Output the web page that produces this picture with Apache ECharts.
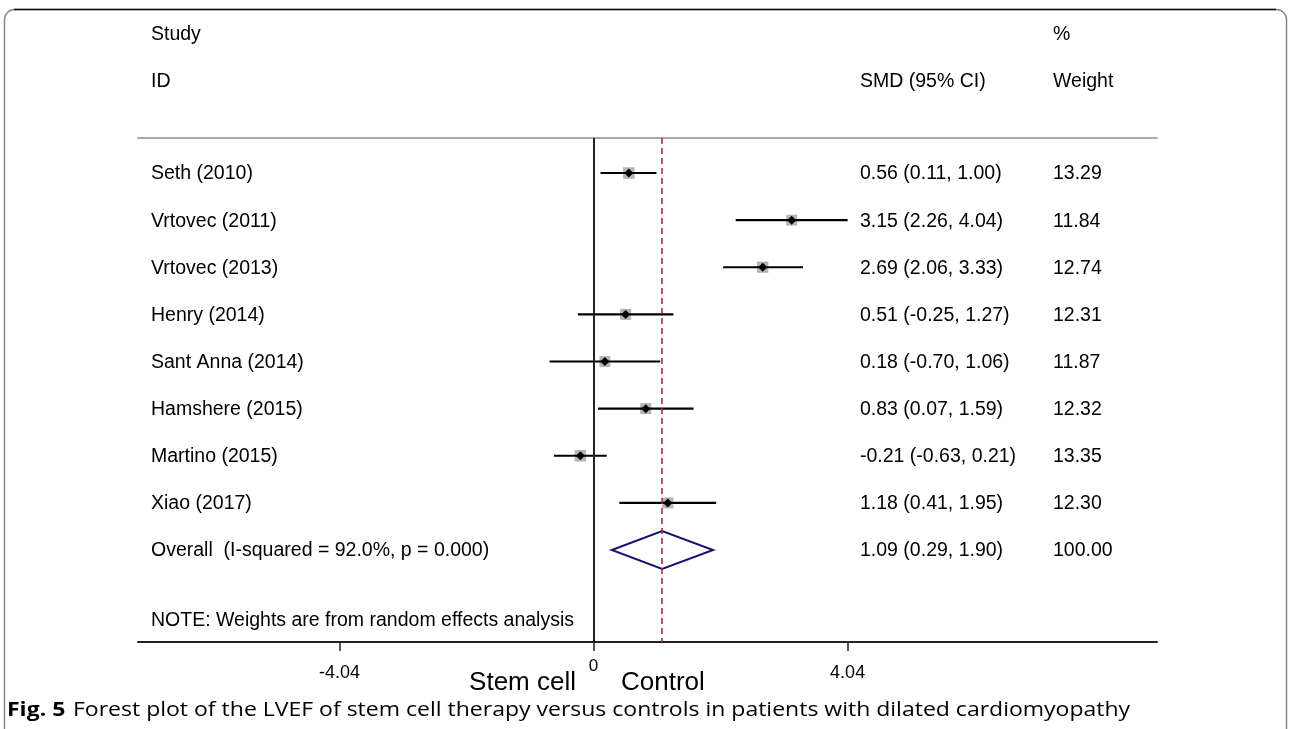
<!DOCTYPE html>
<html>
<head>
<meta charset="utf-8">
<script src="https://cdn.jsdelivr.net/npm/echarts@6/dist/echarts.min.js"></script>
<style>
html,body{margin:0;padding:0;background:#fff;}
#chart{width:1290px;height:729px;}
</style>
</head>
<body>
<div id="chart"></div>
<script>
// ---- data ----
const studies = ['Seth (2010)', 'Vrtovec (2011)', 'Vrtovec (2013)', 'Henry (2014)', 'Sant Anna (2014)', 'Hamshere (2015)', 'Martino (2015)', 'Xiao (2017)'];
const smd     = [0.56, 3.15, 2.69, 0.51, 0.18, 0.83, -0.21, 1.18];
const ciLow   = [0.11, 2.26, 2.06, -0.25, -0.70, 0.07, -0.63, 0.41];
const ciHigh  = [1.00, 4.04, 3.33, 1.27, 1.06, 1.59, 0.21, 1.95];
const weights = [13.29, 11.84, 12.74, 12.31, 11.87, 12.32, 13.35, 12.30];
const overallLabel = 'Overall  (I-squared = 92.0%, p = 0.000)';
const overallSMD = 1.09, overallLow = 0.29, overallHigh = 1.90, overallWeight = 100.00;
const xTicks = [-4.04, 0, 4.04];
const noteText = 'NOTE: Weights are from random effects analysis';
const headers = {study: ['Study', 'ID'], smd: 'SMD (95% CI)', weight: ['%', 'Weight']};
const sideLabels = ['Stem cell', 'Control'];
const captionBold = 'Fig. 5';
const captionText = 'Forest plot of the LVEF of stem cell therapy versus controls in patients with dilated cardiomyopathy';

// ---- build ----
const FONT = 'Liberation Sans, Arial, sans-serif';
const FS = 19.5;
const rows = studies.map((s, i) => [i, smd[i], ciLow[i], ciHigh[i], weights[i]]);
const fmt = v => v.toFixed(2);

const chart = echarts.init(document.getElementById('chart'), null, {renderer: 'canvas'});

function textEl(x, y, str, extra) {
  return {type: 'text', x: x, y: y, style: Object.assign({text: str, fill: '#000', font: FS + 'px ' + FONT, textVerticalAlign: 'middle', verticalAlign: 'middle'}, extra || {})};
}

const option = {
  animation: false,
  backgroundColor: '#fff',
  grid: {left: 138, right: 133, top: 138, bottom: 87},
  xAxis: [{
    type: 'value', min: -7.245, max: 8.96, position: 'bottom',
    axisLine: {show: true, onZero: false, lineStyle: {color: '#222', width: 2}},
    axisTick: {show: true, customValues: xTicks, length: 9, lineStyle: {color: '#222', width: 1.5}},
    axisLabel: {show: true, customValues: xTicks, margin: 16, color: '#000', fontFamily: FONT, fontSize: 19,
      formatter: v => Math.abs(v) < 1e-9 ? '{z|0}' : '{n|' + fmt(v) + '}',
      rich: {n: {fontFamily: FONT, fontSize: 18, color: '#000', padding: [6, 0, 0, 0]}, z: {fontFamily: FONT, fontSize: 17, color: '#000', padding: [0, 0, 4, 0]}}},
    splitLine: {show: false}
  }, {
    type: 'value', min: -7.245, max: 8.96, position: 'top',
    axisLine: {show: true, onZero: false, lineStyle: {color: '#aaa', width: 2}},
    axisTick: {show: false}, axisLabel: {show: false}, splitLine: {show: false}
  }],
  yAxis: {type: 'value', inverse: true, min: -0.743, max: 9.952, show: false},
  graphic: [
    {type: 'rect', shape: {x: 4.5, y: 9.5, width: 1282, height: 800, r: 10}, style: {fill: 'none', stroke: '#888', lineWidth: 1.5}, z: -10},
    {type: 'line', shape: {x1: 14, y1: 9.5, x2: 1276, y2: 9.5}, style: {stroke: '#111', lineWidth: 1.5}, z: -9},
    textEl(151, 35, headers.study[0]),
    textEl(151, 82, headers.study[1]),
    textEl(860, 82, headers.smd),
    textEl(1053, 35, headers.weight[0]),
    textEl(1053, 82, headers.weight[1]),
    {type: 'text', x: 576, y: 683, style: {text: sideLabels[0], fill: '#000', font: '26px ' + FONT, align: 'right', textAlign: 'right', verticalAlign: 'middle', textVerticalAlign: 'middle'}},
    {type: 'text', x: 621, y: 683, style: {text: sideLabels[1], fill: '#000', font: '26px ' + FONT, verticalAlign: 'middle', textVerticalAlign: 'middle'}},
    {type: 'text', x: 7, y: 710, scaleX: 1.15, style: {
      text: '{b|' + captionBold + '}  {r|' + captionText + '}',
      verticalAlign: 'middle', textVerticalAlign: 'middle',
      rich: {b: {fontFamily: 'Open Sans', fontWeight: 'bold', fontSize: 20, fill: '#000', color: '#000'},
             r: {fontFamily: 'Open Sans', fontSize: 20, fill: '#000', color: '#000'}}}}
  ],
  series: [{
    type: 'custom',
    coordinateSystem: 'cartesian2d',
    data: rows,
    renderItem: function (params, api) {
      const i = api.value(0);
      const est = api.value(1), lo = api.value(2), hi = api.value(3), w = api.value(4);
      const pE = api.coord([est, i]);
      const pL = api.coord([lo, i]);
      const pH = api.coord([hi, i]);
      const cs = params.coordSys;
      const side = 11.5 * Math.sqrt(w / 13.35);
      const d = 4.5;
      return {type: 'group', children: [
        {type: 'rect', shape: {x: pE[0] - side / 2, y: pE[1] - side / 2, width: side, height: side}, style: {fill: '#b4b4b4'}},
        {type: 'line', shape: {x1: pL[0], y1: pL[1], x2: pH[0], y2: pH[1]}, style: {stroke: '#000', lineWidth: 2.2}},
        {type: 'polygon', shape: {points: [[pE[0] - d, pE[1]], [pE[0], pE[1] - d], [pE[0] + d, pE[1]], [pE[0], pE[1] + d]]}, style: {fill: '#000'}},
        textEl(cs.x + 13, pE[1] + 1, studies[i]),
        textEl(cs.x + 722, pE[1] + 1, fmt(est) + ' (' + fmt(lo) + ', ' + fmt(hi) + ')'),
        textEl(cs.x + 915, pE[1] + 1, w.toFixed(2))
      ]};
    },
    markLine: {
      silent: true, symbol: 'none', label: {show: false}, animation: false,
      data: [
        {xAxis: 0, lineStyle: {color: '#222', width: 2, type: 'solid'}},
        {xAxis: overallSMD, lineStyle: {color: '#a3203a', width: 1.5, type: [6, 4]}}
      ]
    },
    z: 3
  }, {
    type: 'custom',
    coordinateSystem: 'cartesian2d',
    data: [[studies.length, overallSMD, overallLow, overallHigh, overallWeight]],
    renderItem: function (params, api) {
      const i = api.value(0);
      const est = api.value(1), lo = api.value(2), hi = api.value(3), w = api.value(4);
      const pE = api.coord([est, i]);
      const pL = api.coord([lo, i]);
      const pH = api.coord([hi, i]);
      const pN = api.coord([est, i + 1.5]);
      const cs = params.coordSys;
      const h = 19;
      return {type: 'group', children: [
        {type: 'polygon', shape: {points: [[pL[0], pL[1]], [pE[0], pE[1] - h], [pH[0], pH[1]], [pE[0], pE[1] + h]]}, style: {fill: 'none', stroke: '#14146e', lineWidth: 2}},
        textEl(cs.x + 13, pE[1] + 1, overallLabel),
        textEl(cs.x + 722, pE[1] + 1, fmt(est) + ' (' + fmt(lo) + ', ' + fmt(hi) + ')'),
        textEl(cs.x + 915, pE[1] + 1, w.toFixed(2)),
        textEl(cs.x + 13, pN[1], noteText)
      ]};
    },
    z: 3
  }]
};
chart.setOption(option);
</script>
</body>
</html>
